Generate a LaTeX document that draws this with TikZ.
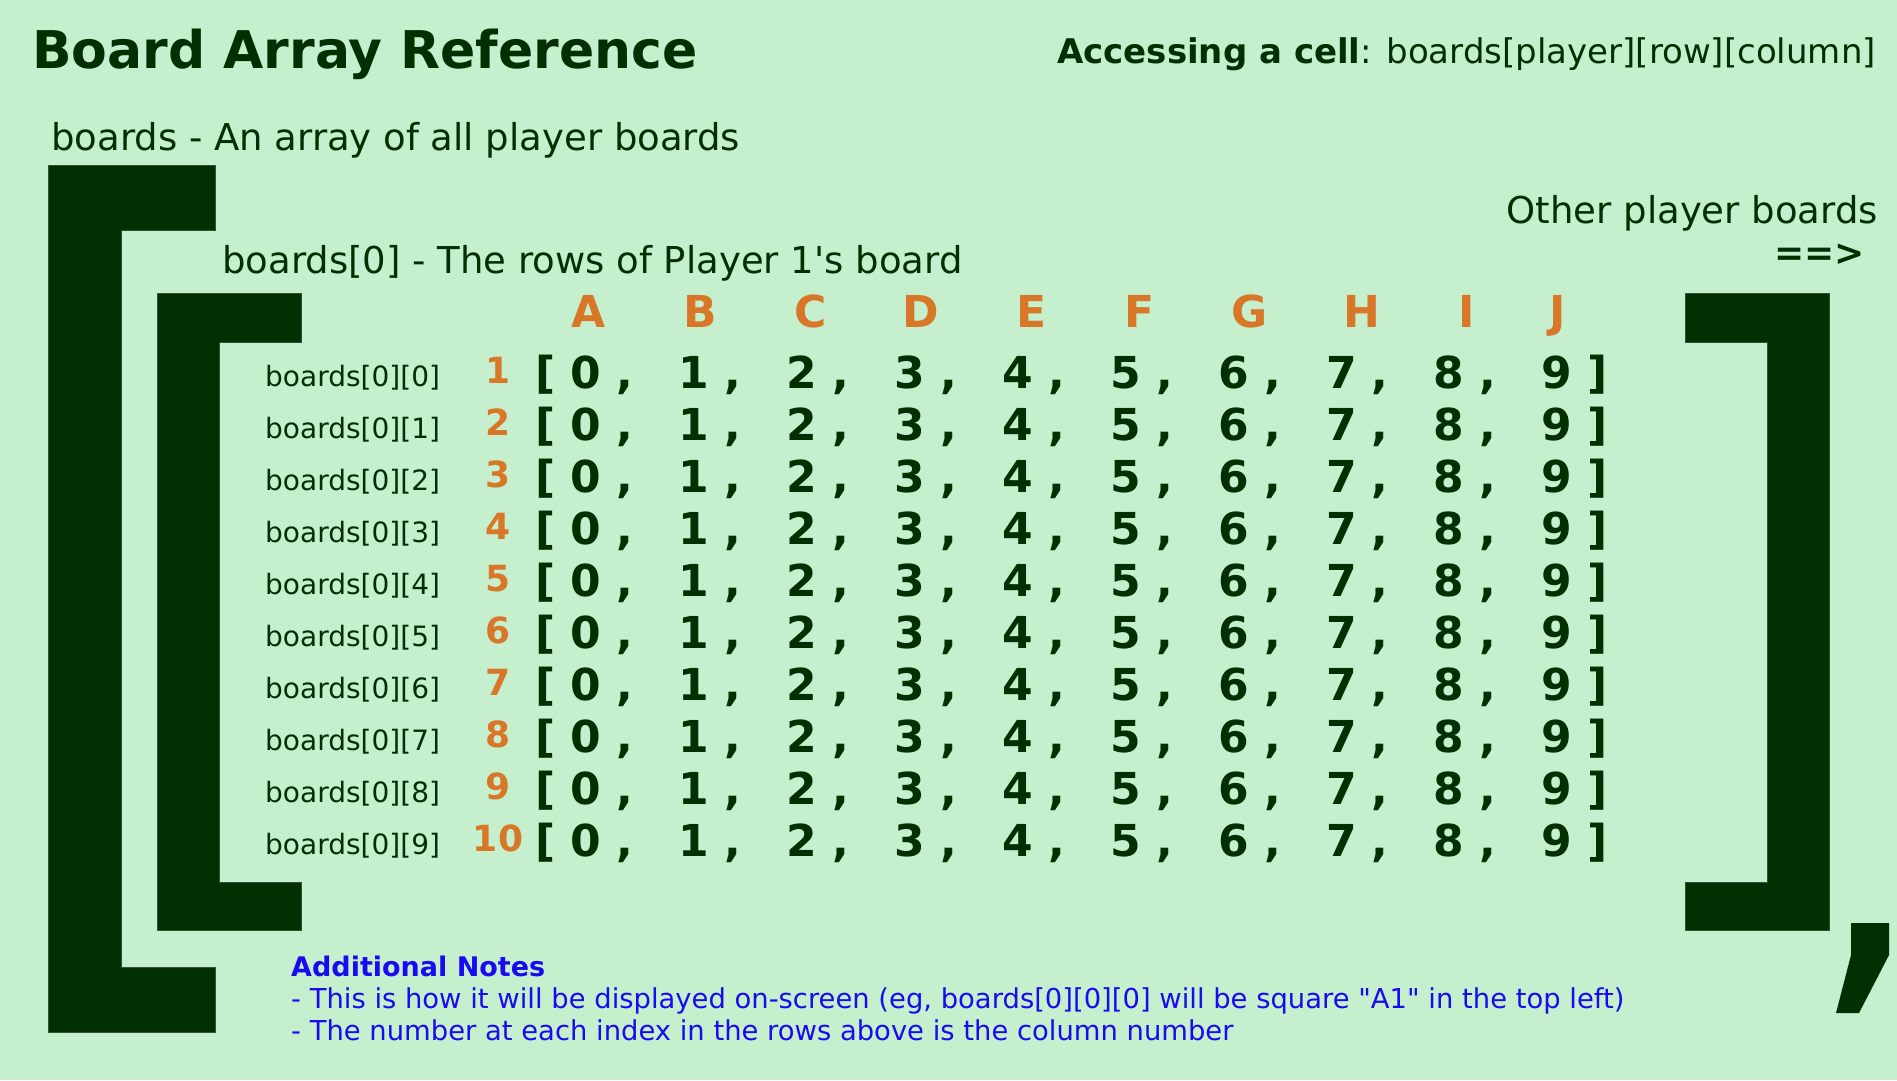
\documentclass[tikz,border=0pt]{standalone}
\usepackage{fontspec}
\setmainfont{DejaVu Sans}[Ligatures=TeXOff]
\usetikzlibrary{positioning}

\definecolor{bgGreen}{RGB}{198,239,206}
\definecolor{darkGreen}{RGB}{3,48,3}
\definecolor{colOrange}{RGB}{217,119,41}
\definecolor{noteBlue}{RGB}{26,10,240}

\newcommand{\fsz}[1]{\fontsize{#1}{#1}\selectfont}

\tikzset{
  txt/.style={inner sep=0pt, text=darkGreen},
  bracket/.style={fill=darkGreen, draw=darkGreen!60!gray, line width=0.8pt},
  colletter/.style={inner sep=0pt, anchor=base, text=colOrange, font=\fsz{44}\bfseries},
  rownum/.style={inner sep=0pt, anchor=base, text=colOrange, font=\fsz{36}\bfseries},
  rowlabel/.style={txt, anchor=base west, font=\fsz{28}},
  cell/.style={txt, anchor=base west, font=\fsz{44}\bfseries},
  note/.style={inner sep=0pt, anchor=base west, text=noteBlue, font=\fsz{27.4}}
}

\begin{document}
\begin{tikzpicture}[x=1pt, y=-1pt]
  % Background
  \fill[bgGreen] (0,0) rectangle (1897,1080);
  \useasboundingbox (0,0) rectangle (1897,1080);

  % Headings
  \node[txt, anchor=base west, font=\fsz{52}\bfseries] (title) at (32,68) {Board Array Reference};
  \node[txt, anchor=base east, font=\fsz{34}] (access) at (1876,63) {\textbf{Accessing a cell}: boards[player][row][column]};
  \node[txt, anchor=base west, font=\fsz{37}] (outerlabel) at (51,150) {boards - An array of all player boards};
  \node[txt, anchor=base west, font=\fsz{37}] (innerlabel) at (222,273) {boards[0] - The rows of Player 1's board};
  \node[txt, anchor=base east, font=\fsz{37}] (others) at (1878,223) {Other player boards};
  \node[txt, anchor=base east, font=\fsz{36}\bfseries] (arrow) at (1865,265) {==>};

  % Outer bracket (all boards)
  \filldraw[bracket] (48,165) -- (215,165) -- (215,230) -- (121,230) -- (121,967)
    -- (215,967) -- (215,1032) -- (48,1032) -- cycle;
  % Inner brackets (board 0)
  \filldraw[bracket] (157,293) -- (301,293) -- (301,342) -- (219,342) -- (219,882)
    -- (301,882) -- (301,930) -- (157,930) -- cycle;
  \filldraw[bracket] (1829,293) -- (1685,293) -- (1685,342) -- (1767,342) -- (1767,882)
    -- (1685,882) -- (1685,930) -- (1829,930) -- cycle;
  % Comma after board 0
  \fill[darkGreen] (1851,923) -- (1889,923) -- (1889,955) -- (1859,1013) -- (1836,1013)
    -- (1851,955) -- cycle;

  % Column letters
  \foreach \x/\l in {589/A, 700/B, 811/C, 921/D, 1032/E, 1140/F, 1250/G, 1362/H, 1467/I, 1558/J}
    \node[colletter] (col\l) at (\x,327) {\l};

  % Rows
  \foreach \r in {0,...,9} {
    \pgfmathtruncatemacro{\n}{\r+1}
    \node[rowlabel] (label\r) at (265,386+52*\r) {boards[0][\r]};
    \node[rownum] (num\r) at (498,383+52*\r) {\n};
    \node[cell] (open\r) at (535,388+52*\r) {[};
    \foreach \c in {0,...,8}
      \node[cell] (cell\r\c) at (570.5+107.9*\c,388+52*\r) {\c\ ,};
    \node[cell] (cell\r9) at (1541.6,388+52*\r) {9 ]};
  }

  % Notes
  \node[note, font=\fsz{27}\bfseries] (notehead) at (291,976) {Additional Notes};
  \node[note] (note1) at (291,1008) {- This is how it will be displayed on-screen (eg, boards[0][0][0] will be square "A1" in the top left)};
  \node[note] (note2) at (291,1040) {- The number at each index in the rows above is the column number};
\end{tikzpicture}
\end{document}
